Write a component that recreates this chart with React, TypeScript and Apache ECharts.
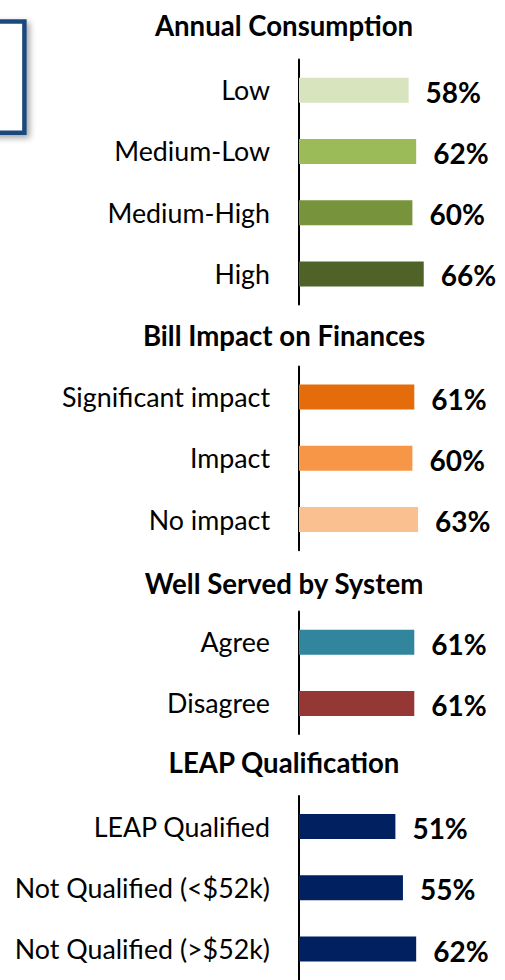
import React, { useEffect, useRef } from "react";
import * as echarts from "echarts";

// Section headings
const sectionTitles = [
  "Annual Consumption",
  "Bill Impact on Finances",
  "Well Served by System",
  "LEAP Qualification",
];

// Annual Consumption
const consumptionCats = ["Low", "Medium-Low", "Medium-High", "High"];
const consumptionVals = [58, 62, 60, 66];
const consumptionColors = ["#D7E4BD", "#9BBB59", "#77933C", "#4F6228"];

// Bill Impact on Finances
const impactCats = ["Significant impact", "Impact", "No impact"];
const impactVals = [61, 60, 63];
const impactColors = ["#E46C0A", "#F79646", "#FAC090"];

// Well Served by System
const servedCats = ["Agree", "Disagree"];
const servedVals = [61, 61];
const servedColors = ["#31859C", "#953735"];

// LEAP Qualification
const leapCats = ["LEAP Qualified", "Not Qualified (<$52k)", "Not Qualified (>$52k)"];
const leapVals = [51, 55, 62];
const leapColors = ["#002060", "#002060", "#002060"];

const FONT = "Lato, 'Open Sans', sans-serif";
const LABEL_SIZE = 26.8;
const TITLE_SIZE = 27.6;
const VALUE_SIZE = 28;

const AXIS_X = 299;
const AXIS_W = 189;

// vertical extent of each section's category band and its heading position
const panels = [
  { cats: consumptionCats, vals: consumptionVals, colors: consumptionColors, top: 59.5, height: 245, titleY: 25 },
  { cats: impactCats, vals: impactVals, colors: impactColors, top: 366.5, height: 183.7, titleY: 335 },
  { cats: servedCats, vals: servedVals, colors: servedColors, top: 611.5, height: 122.5, titleY: 583 },
  { cats: leapCats, vals: leapVals, colors: leapColors, top: 796, height: 183.7, titleY: 762.5 },
];

export default function App() {
  const ref = useRef<HTMLDivElement>(null);

  useEffect(() => {
    if (!ref.current) return;
    const chart = echarts.init(ref.current, null, { renderer: "svg" });

    const grid = panels.map((p) => ({
      left: AXIS_X,
      width: AXIS_W,
      top: p.top,
      height: p.height,
      containLabel: false,
    }));

    const xAxis = panels.map((_, i) => ({
      type: "value" as const,
      gridIndex: i,
      min: 0,
      max: 100,
      show: false,
    }));

    const yAxis = panels.map((p, i) => ({
      type: "category" as const,
      gridIndex: i,
      inverse: true,
      data: p.cats,
      axisLine: { show: true, lineStyle: { color: "#000", width: 2 } },
      axisTick: { show: false },
      splitLine: { show: false },
      axisLabel: {
        margin: 29,
        color: "#000",
        fontSize: LABEL_SIZE,
        fontFamily: FONT,
      },
    }));

    const series = panels.map((p, i) => ({
      type: "bar" as const,
      xAxisIndex: i,
      yAxisIndex: i,
      barWidth: 25,
      data: p.vals.map((v, j) => ({ value: v, itemStyle: { color: p.colors[j] } })),
      label: {
        show: true,
        position: "right" as const,
        distance: 17,
        offset: [0, 1.5],
        formatter: "{c}%",
        color: "#000",
        fontWeight: "bold" as const,
        fontSize: VALUE_SIZE,
        fontFamily: FONT,
      },
    }));

    const headings = panels.map((p, i) => ({
      type: "text" as const,
      x: 284,
      y: p.titleY,
      style: {
        text: sectionTitles[i],
        textAlign: "center",
        textVerticalAlign: "middle",
        fontSize: TITLE_SIZE,
        fontWeight: "bold",
        fontFamily: FONT,
        fill: "#000",
      },
    }));

    chart.setOption({
      animation: false,
      backgroundColor: "#fff",
      grid,
      xAxis,
      yAxis,
      series,
      graphic: [
        {
          type: "rect",
          shape: { x: -10, y: 21.5, width: 34.4, height: 111.3 },
          style: {
            fill: "#fff",
            stroke: "#1F497D",
            lineWidth: 4.5,
            shadowBlur: 6,
            shadowOffsetX: 3,
            shadowOffsetY: 3,
            shadowColor: "rgba(0,0,0,0.35)",
          },
        },
        ...headings,
      ],
    });

    return () => chart.dispose();
  }, []);

  return (
    <div
      ref={ref}
      style={{ position: "absolute", left: 0, top: 0, width: 505, height: 980 }}
    />
  );
}
